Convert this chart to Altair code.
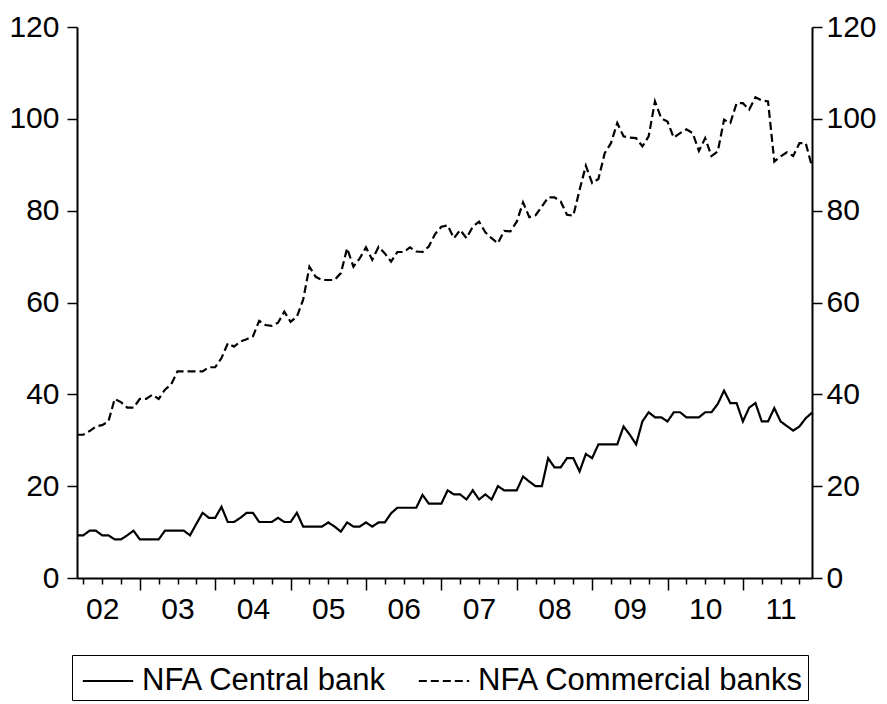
import altair as alt
import pandas as pd

# ---- data (monthly, Mar 2002 .. Dec 2011) ----
start_year = 2002
start_month = 3
series_names = ["NFA Central bank", "NFA Commercial banks"]

central = [
    9.3, 9.3, 10.3, 10.3, 9.3, 9.3, 8.4, 8.4, 9.3, 10.3,
    8.4, 8.4, 8.4, 8.4, 10.3, 10.3, 10.3, 10.3, 9.3, 11.8,
    14.2, 13.1, 13.1, 15.5, 12.2, 12.2, 13.1, 14.2, 14.2, 12.2,
    12.2, 12.2, 13.1, 12.2, 12.2, 14.2, 11.2, 11.2, 11.2, 11.2,
    12.1, 11.2, 10.1, 12.1, 11.2, 11.2, 12.1, 11.2, 12.1, 12.1,
    14.1, 15.3, 15.3, 15.3, 15.3, 18.1, 16.2, 16.2, 16.2, 19.1,
    18.2, 18.2, 17.1, 19.1, 17.1, 18.2, 17.1, 20.0, 19.1, 19.1,
    19.1, 22.1, 21.0, 20.0, 20.0, 26.1, 24.1, 24.1, 26.1, 26.1,
    23.2, 27.0, 26.1, 29.1, 29.1, 29.1, 29.1, 33.0, 31.2, 29.1,
    34.1, 36.1, 35.0, 35.0, 34.1, 36.1, 36.1, 35.0, 35.0, 35.0,
    36.1, 36.1, 37.9, 40.8, 38.1, 38.1, 34.1, 37.1, 38.1, 34.1,
    34.1, 37.0, 34.1, 33.1, 32.1, 33.0, 34.8, 36.0,
]

commercial = [
    31.2, 31.2, 32.0, 33.0, 33.3, 34.1, 39.0, 38.3, 37.1, 37.1,
    39.0, 39.0, 39.9, 39.0, 41.0, 42.2, 45.0, 45.0, 45.0, 45.0,
    45.0, 45.9, 45.9, 47.9, 51.1, 50.4, 51.5, 52.0, 52.6, 56.0,
    55.1, 54.9, 55.6, 58.0, 55.8, 56.9, 60.6, 67.8, 65.6, 64.9,
    64.9, 64.9, 66.4, 71.8, 67.8, 69.6, 72.0, 69.3, 72.1, 70.7,
    68.9, 71.0, 71.0, 72.0, 71.1, 71.0, 72.2, 74.9, 76.5, 76.8,
    74.0, 75.8, 74.0, 76.5, 77.6, 75.3, 74.0, 72.9, 75.6, 75.5,
    77.6, 81.8, 78.6, 79.0, 80.9, 82.9, 82.9, 82.0, 79.1, 78.9,
    84.5, 89.8, 86.0, 86.9, 92.5, 94.7, 99.1, 96.2, 95.9, 95.8,
    94.0, 96.2, 103.8, 100.1, 99.4, 95.9, 96.9, 97.7, 96.9, 93.0,
    95.8, 91.9, 92.9, 99.8, 99.1, 103.4, 103.4, 102.0, 104.7, 104.0,
    103.8, 90.7, 91.8, 92.7, 91.9, 94.7, 94.7, 89.6,
]

y_ticks = [0, 20, 40, 60, 80, 100, 120]
years = list(range(2002, 2012))

# ---- build table ----
n = len(central)
t = [start_year + (start_month - 1 + i) / 12 for i in range(n)]
df = pd.DataFrame({
    "t": t + t,
    "value": central + commercial,
    "series": [series_names[0]] * n + [series_names[1]] * n,
})

quarter_ticks = [y + q / 4 for y in years for q in range(4) if t[0] <= y + q / 4 <= t[-1]]

FONT = "Liberation Sans"

x_enc = alt.X(
    "t:Q",
    scale=alt.Scale(domain=[t[0], t[-1]], nice=False, zero=False),
    axis=alt.Axis(
        values=quarter_ticks,
        title=None,
        grid=False,
        domainColor="black",
        domainWidth=2,
        tickColor="black",
        tickWidth=1.5,
        tickSize={"condition": {"test": "abs(datum.value - round(datum.value)) < 0.01", "value": 12}, "value": 6},
        labelExpr="abs(datum.value - floor(datum.value) - 0.5) < 0.01 ? (((floor(datum.value) % 100) < 10 ? '0' : '') + (floor(datum.value) % 100)) : ''",
        labelFont=FONT,
        labelFontSize=30,
        labelColor="black",
        labelPadding=10,
        labelOverlap=False,
        labelFlush=False,
    ),
)

def y_enc(orient, pad):
    return alt.Y(
        "value:Q",
        scale=alt.Scale(domain=[0, 120], nice=False, zero=True),
        axis=alt.Axis(
            values=y_ticks,
            orient=orient,
            title=None,
            grid=False,
            domainColor="black",
            domainWidth=2,
            tickColor="black",
            tickWidth=1.5,
            tickSize=10,
            labelFont=FONT,
            labelFontSize=30,
            labelColor="black",
            labelPadding=pad,
            labelOverlap=False,
            labelFlush=False,
        ),
    )

last_label_expr = f"datum.label == '{series_names[-1]}' ? datum.label + '  ' : datum.label"

lines = alt.Chart(df).mark_line(color="black", strokeWidth=2.2).encode(
    x=x_enc,
    y=y_enc("left", 8),
    detail="series:N",
    strokeDash=alt.StrokeDash(
        "series:N",
        scale=alt.Scale(domain=series_names, range=[[1, 0], [8, 4]]),
        sort=series_names,
        legend=alt.Legend(
            title=None,
            orient="none",
            legendX=-5,
            legendY=628,
            direction="horizontal",
            labelFont=FONT,
            labelFontSize=31,
            labelColor="black",
            labelLimit=600,
            labelOffset=12,
            labelExpr=last_label_expr,
            symbolType="M-1.2,0H1.2",
            symbolSize=1764,
            symbolOffset=10,
            symbolStrokeWidth=2,
            symbolStrokeColor="black",
            symbolFillColor="transparent",
            columnPadding=25,
            strokeColor="black",
            padding=4,
        ),
    ),
)

right_axis = alt.Chart(df).mark_line(color="black", strokeOpacity=0).encode(
    x=x_enc,
    y=y_enc("right", 4),
    detail="series:N",
)

chart = (
    alt.layer(lines, right_axis)
    .resolve_scale(y="independent")
    .properties(
        width=735,
        height=551,
        autosize=alt.AutoSizeParams(type="none"),
        padding={"left": 77, "top": 27, "right": 75, "bottom": 126},
        background="white",
    )
    .configure_view(stroke=None)
)

chart.save("out.html", embed_options={"renderer": "svg", "actions": False})
